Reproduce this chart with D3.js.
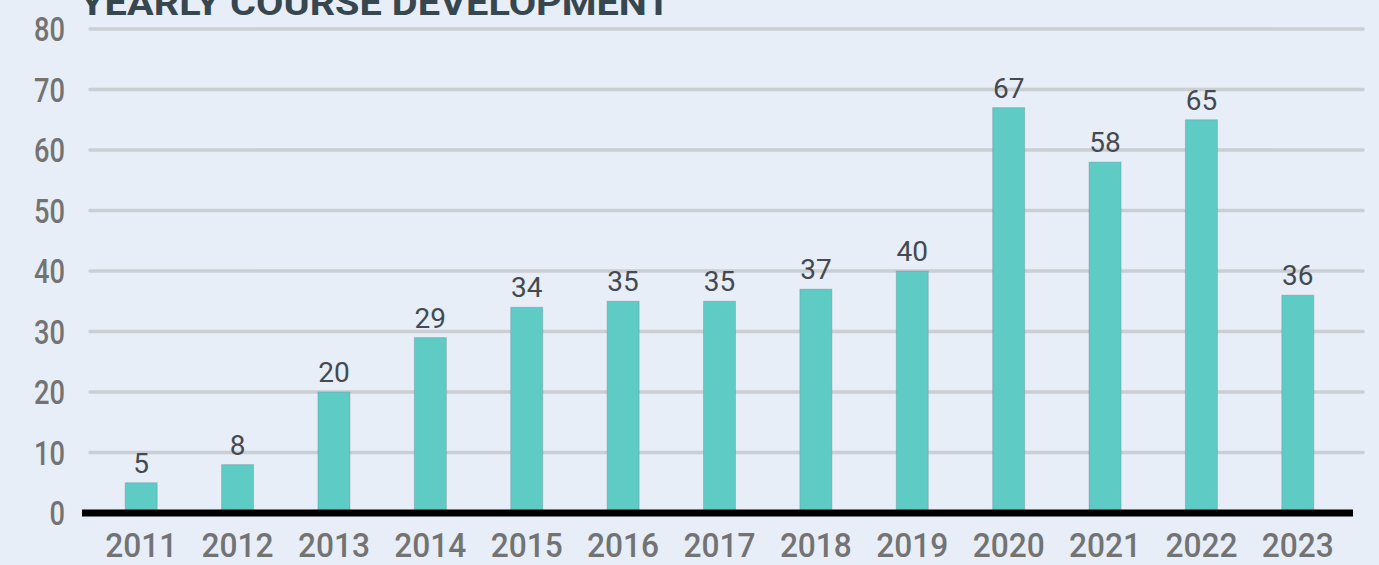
<!DOCTYPE html>
<html>
<head>
<meta charset="utf-8">
<script src="https://cdn.jsdelivr.net/npm/d3@7"></script>
<style>
  html, body { margin: 0; padding: 0; background: #e7eef8; }
  svg { display: block; }
</style>
</head>
<body>
<svg id="chart" width="1379" height="565"></svg>
<script>
// chart data
const years = ["2011", "2012", "2013", "2014", "2015", "2016", "2017", "2018", "2019", "2020", "2021", "2022", "2023"];
const courses = [5, 8, 20, 29, 34, 35, 35, 37, 40, 67, 58, 65, 36];
const yTicks = [0, 10, 20, 30, 40, 50, 60, 70, 80];
const title = "YEARLY COURSE DEVELOPMENT";

const svg = d3.select("#chart");

// scales
const x = d3.scaleBand().domain(years).range([93, 1346]).padding(0);
const y = d3.scaleLinear().domain([0, 80]).range([513, 29]);
const barW = 32;

// gridlines
svg.append("g")
  .selectAll("line")
  .data(yTicks.filter(d => d > 0))
  .enter()
  .append("line")
  .attr("x1", 90)
  .attr("x2", 1363)
  .attr("y1", d => y(d))
  .attr("y2", d => y(d))
  .style("stroke", "#cbced3")
  .style("stroke-width", 3.5)
  .style("stroke-linecap", "round");

// y labels
svg.append("g")
  .selectAll("text")
  .data(yTicks)
  .enter()
  .append("text")
  .attr("x", 65)
  .attr("y", d => y(d) + 12)
  .attr("text-anchor", "end")
  .attr("textLength", d => String(d).length * 15.5)
  .attr("lengthAdjust", "spacingAndGlyphs")
  .style("font-family", "Roboto, sans-serif")
  .style("font-weight", 500)
  .style("font-size", "34px")
  .style("fill", "#737373")
  .text(d => d);

// bars
svg.append("g")
  .selectAll("rect")
  .data(courses)
  .enter()
  .append("rect")
  .attr("x", (d, i) => x(years[i]) + x.bandwidth() / 2 - barW / 2)
  .attr("y", d => y(d))
  .attr("width", barW)
  .attr("height", d => y(0) - y(d))
  .style("fill", "#5fcbc5")
  .style("stroke", "rgba(110,130,140,0.35)")
  .style("stroke-width", 1);

// value labels
svg.append("g")
  .selectAll("text")
  .data(courses)
  .enter()
  .append("text")
  .attr("x", (d, i) => x(years[i]) + x.bandwidth() / 2)
  .attr("y", d => y(d) - 10)
  .attr("text-anchor", "middle")
  .style("font-family", "Roboto, sans-serif")
  .style("font-size", "28px")
  .style("fill", "#444a50")
  .text(d => d);

// baseline
svg.append("line")
  .attr("x1", 82)
  .attr("x2", 1353)
  .attr("y1", y(0))
  .attr("y2", y(0))
  .style("stroke", "#000")
  .style("stroke-width", 7);

// x labels
svg.append("g")
  .selectAll("text")
  .data(years)
  .enter()
  .append("text")
  .attr("x", d => x(d) + x.bandwidth() / 2)
  .attr("y", 557)
  .attr("text-anchor", "middle")
  .attr("textLength", 72)
  .attr("lengthAdjust", "spacingAndGlyphs")
  .style("font-family", "Roboto, sans-serif")
  .style("font-weight", 500)
  .style("font-size", "33px")
  .style("fill", "#737373")
  .text(d => d);

// title (clipped at top like the original)
svg.append("text")
  .attr("x", 80)
  .attr("y", 15)
  .attr("textLength", 591)
  .attr("lengthAdjust", "spacingAndGlyphs")
  .style("font-family", "Roboto, sans-serif")
  .style("font-weight", 700)
  .style("font-size", "35px")
  .style("fill", "#37474f")
  .text(title);
</script>
</body>
</html>
